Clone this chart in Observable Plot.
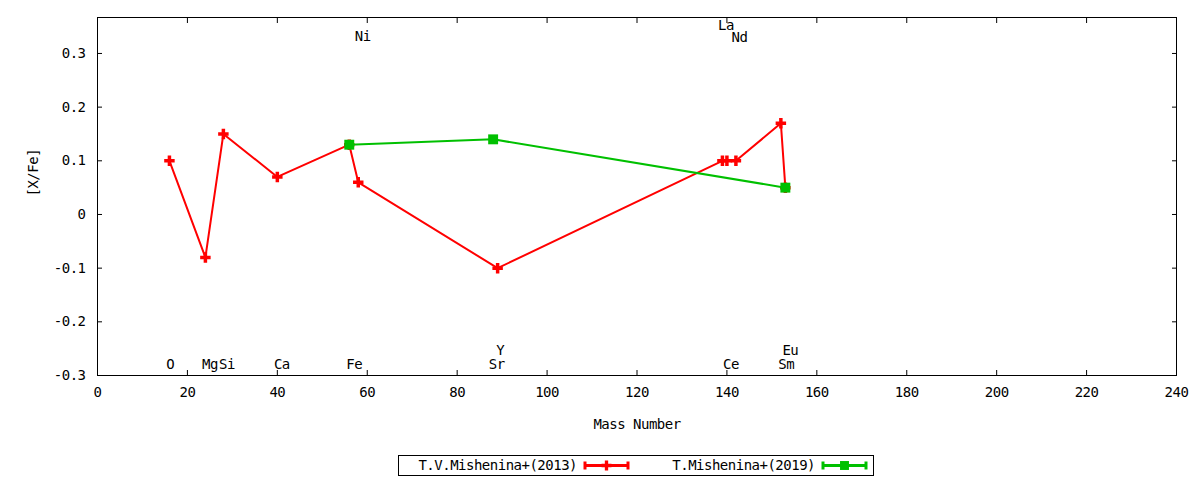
<!DOCTYPE html>
<html>
<head>
<meta charset="utf-8">
<script src="https://cdn.jsdelivr.net/npm/d3@7"></script>
<script src="https://cdn.jsdelivr.net/npm/@observablehq/plot@0.6"></script>
<style>
  html, body { margin: 0; padding: 0; background: #fff; }
  #wrap { position: relative; width: 1200px; height: 480px; }
  #legend { position: absolute; left: 398px; top: 455px; }
  svg text { letter-spacing: -0.5px; }
</style>
</head>
<body>
<div id="wrap"><div id="chart"></div><div id="legend"></div></div>
<script>
// ---- data ----
const series1Name = "T.V.Mishenina+(2013)";
const series1Mass = [16, 24, 28, 40, 56, 58, 89, 139, 140, 142, 152, 153];
const series1Value = [0.10, -0.08, 0.15, 0.07, 0.13, 0.06, -0.10, 0.10, 0.10, 0.10, 0.17, 0.05];

const series2Name = "T.Mishenina+(2019)";
const series2Mass = [56, 88, 153];
const series2Value = [0.13, 0.14, 0.05];

const elementNames  = ["O", "Mg", "Si", "Ca", "Fe", "Ni", "Sr", "Y", "La", "Ce", "Nd", "Sm", "Eu"];
const elementLabelX = [16.2, 25.0, 28.8, 41.0, 57.1, 59.0, 88.8, 89.6, 139.8, 140.9, 142.8, 153.2, 154.1];
const elementLabelY = [-0.279, -0.279, -0.279, -0.279, -0.279, 0.332, -0.279, -0.253, 0.352, -0.279, 0.330, -0.279, -0.253];

const xTicks = [0, 20, 40, 60, 80, 100, 120, 140, 160, 180, 200, 220, 240];
const yTicks = [-0.3, -0.2, -0.1, 0, 0.1, 0.2, 0.3];
const yTickLabels = ["-0.3", "-0.2", "-0.1", "0", "0.1", "0.2", "0.3"];

const xLabel = "Mass Number";
const yLabel = "[X/Fe]";

// ---- tables ----
const s1 = series1Mass.map((m, i) => ({mass: m, value: series1Value[i]}));
const s2 = series2Mass.map((m, i) => ({mass: m, value: series2Value[i]}));
const labels = elementNames.map((n, i) => ({name: n, x: elementLabelX[i], y: elementLabelY[i]}));

const RED = "#ff0000";
const GREEN = "#00c000";
const FONT = "'DejaVu Sans Mono', monospace";

const chart = Plot.plot({
  width: 1200,
  height: 448,
  marginLeft: 97,
  marginRight: 24,
  marginTop: 17,
  marginBottom: 73,
  style: {fontFamily: FONT, fontSize: "14px", background: "#fff", color: "#000", overflow: "visible"},
  x: {domain: [0, 240]},
  y: {domain: [-0.3, 0.367]},
  marks: [
    Plot.frame({stroke: "#000", strokeWidth: 1}),
    // inward ticks on all sides
    Plot.axisX({ticks: xTicks, anchor: "bottom", tickSize: -5, tickFormat: () => "", label: null}),
    Plot.axisX({ticks: xTicks, anchor: "top", tickSize: -5, tickFormat: () => "", label: null}),
    Plot.axisY({ticks: yTicks, anchor: "left", tickSize: -5, tickFormat: () => "", label: null}),
    Plot.axisY({ticks: yTicks, anchor: "right", tickSize: -5, tickFormat: () => "", label: null}),
    // tick labels
    Plot.axisX({ticks: xTicks, anchor: "bottom", tickSize: 0, tickPadding: 12, tickFormat: d => String(d), label: null}),
    Plot.axisY({ticks: yTicks, anchor: "left", tickSize: 0, tickPadding: 12, tickFormat: d => yTickLabels[yTicks.indexOf(d)], label: null}),
    // axis titles
    Plot.text([xLabel], {frameAnchor: "bottom", dy: 53, text: d => d, fill: "#000"}),
    Plot.text([yLabel], {frameAnchor: "left", dx: -64, rotate: -90, text: d => d, fill: "#000"}),
    // element labels
    Plot.text(labels, {x: "x", y: "y", text: "name", fill: "#000"}),
    // series 1
    Plot.line(s1, {x: "mass", y: "value", stroke: RED, strokeWidth: 2}),
    Plot.dot(s1, {x: "mass", y: "value", symbol: "cross", r: 4.4, fill: RED, stroke: "none"}),
    // series 2
    Plot.line(s2, {x: "mass", y: "value", stroke: GREEN, strokeWidth: 2}),
    Plot.dot(s2, {x: "mass", y: "value", symbol: "square", r: 5.6, fill: GREEN, stroke: "none"})
  ]
});
document.getElementById("chart").appendChild(chart);

// ---- legend ----
const lg = d3.select("#legend").append("svg")
  .attr("width", 477).attr("height", 22)
  .style("font-family", FONT).style("font-size", "14px");
lg.append("rect").attr("x", 0.5).attr("y", 0.5).attr("width", 475).attr("height", 20)
  .attr("fill", "#fff").attr("stroke", "#000");
const entries = [
  {name: series1Name, color: RED, textEnd: 179, x0: 187, x1: 230, sym: d3.symbolCross},
  {name: series2Name, color: GREEN, textEnd: 417, x0: 425, x1: 468, sym: d3.symbolSquare}
];
for (const e of entries) {
  lg.append("text").attr("x", e.textEnd).attr("y", 10.5).attr("dy", "0.35em")
    .attr("text-anchor", "end").attr("fill", "#000").text(e.name);
  const g = lg.append("g").attr("stroke", e.color).attr("stroke-width", 3);
  g.append("line").attr("x1", e.x0).attr("x2", e.x1).attr("y1", 10.5).attr("y2", 10.5);
  g.append("line").attr("x1", e.x0).attr("x2", e.x0).attr("y1", 6.5).attr("y2", 14.5);
  g.append("line").attr("x1", e.x1).attr("x2", e.x1).attr("y1", 6.5).attr("y2", 14.5);
  lg.append("path").attr("transform", `translate(${(e.x0 + e.x1) / 2},10.5)`)
    .attr("d", d3.symbol(e.sym, e.sym === d3.symbolCross ? 55 : 80)()).attr("fill", e.color);
}
</script>
</body>
</html>
